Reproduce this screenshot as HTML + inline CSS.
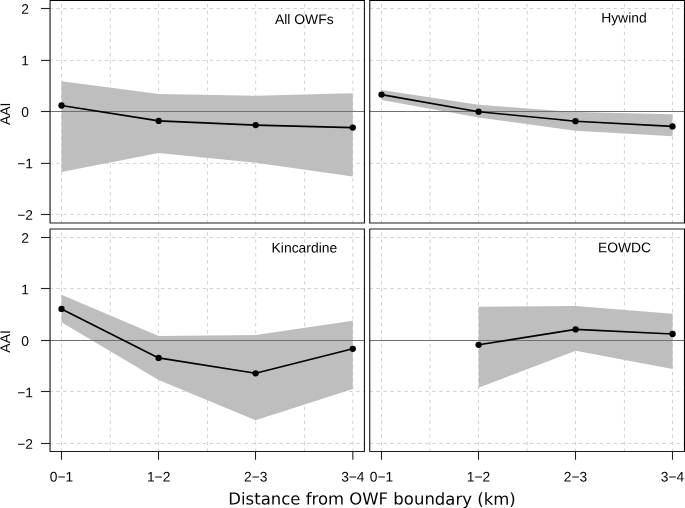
<!DOCTYPE html><html><head><meta charset="utf-8"><title>AAI vs distance from OWF boundary</title>
<style>html,body{margin:0;padding:0;background:#fff}svg{display:block}text{font-family:"Liberation Sans",Arial,sans-serif;fill:#000;text-rendering:geometricPrecision}.t{font-size:13.8px;text-anchor:middle}.p{font-size:13.9px;text-anchor:middle}.xl{font-family:"DejaVu Sans",Verdana,sans-serif;font-size:16.5px;text-anchor:middle}</style></head><body>
<svg width="685" height="508" viewBox="0 0 685 508">
<rect width="685" height="508" fill="#fff"/>
<g opacity="0.999">
<clipPath id="c0"><rect x="50.05" y="0.5" width="314.40" height="222.50"/></clipPath>
<g clip-path="url(#c0)">
<path d="M61.50 223.00V0.50M110.30 223.00V0.50M158.60 223.00V0.50M207.45 223.00V0.50M255.70 223.00V0.50M304.60 223.00V0.50M352.85 223.00V0.50" stroke="#d3d3d3" stroke-width="1" stroke-dasharray="3.5 3.475" stroke-dashoffset="0.55" fill="none"/>
<path d="M49.20 8.50H364.45M49.20 60.40H364.45M49.20 111.50H364.45M49.20 163.40H364.45M49.20 214.50H364.45" stroke="#d3d3d3" stroke-width="1" stroke-dasharray="3.5 3.475" fill="none"/>
<polygon points="61.5,81.2 158.7,93.9 255.7,95.8 352.8,93.3 352.8,176.6 255.7,162.8 158.7,153.1 61.5,172.1" fill="#bebebe"/>
<path d="M50.05 111.50H364.45" stroke="#707070" stroke-width="1" fill="none"/>
<polyline points="61.5,105.5 158.7,120.9 255.7,125.1 352.8,127.6" fill="none" stroke="#000" stroke-width="1.65" stroke-linejoin="round"/>
</g>
<circle cx="61.5" cy="105.5" r="3.15" fill="#000"/>
<circle cx="158.7" cy="120.9" r="3.15" fill="#000"/>
<circle cx="255.7" cy="125.1" r="3.15" fill="#000"/>
<circle cx="352.8" cy="127.6" r="3.15" fill="#000"/>
<rect x="50.05" y="0.5" width="314.40" height="222.50" fill="none" stroke="#1e1e1e" stroke-width="1.15" stroke-linejoin="round"/>
<text class="p" x="304.30" y="24.10" transform="rotate(0.03 304.30 24.10)">All OWFs</text>
<clipPath id="c1"><rect x="369.75" y="0.5" width="314.75" height="222.50"/></clipPath>
<g clip-path="url(#c1)">
<path d="M381.50 223.00V0.50M430.00 223.00V0.50M478.50 223.00V0.50M527.20 223.00V0.50M575.50 223.00V0.50M624.40 223.00V0.50M672.50 223.00V0.50" stroke="#d3d3d3" stroke-width="1" stroke-dasharray="3.5 3.475" stroke-dashoffset="0.55" fill="none"/>
<path d="M369.45 8.50H684.50M369.45 60.40H684.50M369.45 111.50H684.50M369.45 163.40H684.50M369.45 214.50H684.50" stroke="#d3d3d3" stroke-width="1" stroke-dasharray="3.5 3.475" fill="none"/>
<polygon points="381.5,90.0 478.6,104.8 575.5,112.0 672.5,114.2 672.5,136.3 575.5,130.7 478.6,117.5 381.5,100.0" fill="#bebebe"/>
<path d="M369.75 111.50H684.5" stroke="#707070" stroke-width="1" fill="none"/>
<polyline points="381.5,94.6 478.6,111.7 575.5,121.2 672.5,126.4" fill="none" stroke="#000" stroke-width="1.65" stroke-linejoin="round"/>
</g>
<circle cx="381.5" cy="94.6" r="3.15" fill="#000"/>
<circle cx="478.6" cy="111.7" r="3.15" fill="#000"/>
<circle cx="575.5" cy="121.2" r="3.15" fill="#000"/>
<circle cx="672.5" cy="126.4" r="3.15" fill="#000"/>
<rect x="369.75" y="0.5" width="314.75" height="222.50" fill="none" stroke="#1e1e1e" stroke-width="1.15" stroke-linejoin="round"/>
<text class="p" x="623.90" y="22.40" transform="rotate(0.03 623.90 22.40)">Hywind</text>
<clipPath id="c2"><rect x="50.05" y="229.0" width="314.40" height="222.45"/></clipPath>
<g clip-path="url(#c2)">
<path d="M61.50 451.45V229.00M110.30 451.45V229.00M158.60 451.45V229.00M207.45 451.45V229.00M255.70 451.45V229.00M304.60 451.45V229.00M352.85 451.45V229.00" stroke="#d3d3d3" stroke-width="1" stroke-dasharray="3.5 3.475" stroke-dashoffset="0.55" fill="none"/>
<path d="M49.20 237.50H364.45M49.20 288.50H364.45M49.20 340.50H364.45M49.20 391.50H364.45M49.20 443.50H364.45" stroke="#d3d3d3" stroke-width="1" stroke-dasharray="3.5 3.475" fill="none"/>
<polygon points="61.5,294.8 158.6,336.1 255.6,334.9 352.8,320.7 352.8,389.0 255.6,420.2 158.6,379.9 61.5,322.2" fill="#bebebe"/>
<path d="M50.05 340.50H364.45" stroke="#707070" stroke-width="1" fill="none"/>
<polyline points="61.5,308.9 158.6,357.9 255.6,373.3 352.8,348.8" fill="none" stroke="#000" stroke-width="1.65" stroke-linejoin="round"/>
</g>
<circle cx="61.5" cy="308.9" r="3.15" fill="#000"/>
<circle cx="158.6" cy="357.9" r="3.15" fill="#000"/>
<circle cx="255.6" cy="373.3" r="3.15" fill="#000"/>
<circle cx="352.8" cy="348.8" r="3.15" fill="#000"/>
<rect x="50.05" y="229.0" width="314.40" height="222.45" fill="none" stroke="#1e1e1e" stroke-width="1.15" stroke-linejoin="round"/>
<text class="p" x="304.40" y="252.50" transform="rotate(0.03 304.40 252.50)">Kincardine</text>
<clipPath id="c3"><rect x="369.75" y="229.0" width="314.75" height="222.45"/></clipPath>
<g clip-path="url(#c3)">
<path d="M381.50 451.45V229.00M430.00 451.45V229.00M478.50 451.45V229.00M527.20 451.45V229.00M575.50 451.45V229.00M624.40 451.45V229.00M672.50 451.45V229.00" stroke="#d3d3d3" stroke-width="1" stroke-dasharray="3.5 3.475" stroke-dashoffset="0.55" fill="none"/>
<path d="M369.45 237.50H684.50M369.45 288.50H684.50M369.45 340.50H684.50M369.45 391.50H684.50M369.45 443.50H684.50" stroke="#d3d3d3" stroke-width="1" stroke-dasharray="3.5 3.475" fill="none"/>
<polygon points="478.6,306.7 575.6,306.1 672.6,313.8 672.6,369.1 575.6,350.8 478.6,387.8" fill="#bebebe"/>
<path d="M369.75 340.50H684.5" stroke="#707070" stroke-width="1" fill="none"/>
<polyline points="478.6,344.8 575.6,329.4 672.6,334.0" fill="none" stroke="#000" stroke-width="1.65" stroke-linejoin="round"/>
</g>
<circle cx="478.6" cy="344.8" r="3.15" fill="#000"/>
<circle cx="575.6" cy="329.4" r="3.15" fill="#000"/>
<circle cx="672.6" cy="334.0" r="3.15" fill="#000"/>
<rect x="369.75" y="229.0" width="314.75" height="222.45" fill="none" stroke="#1e1e1e" stroke-width="1.15" stroke-linejoin="round"/>
<text class="p" x="624.50" y="252.20" transform="rotate(0.03 624.50 252.20)">EOWDC</text>
<path d="M50.05 0.5H364.45M369.75 0.5H684.5M684.55 0.5V223.0M684.55 229.0V451.45" stroke="#000" stroke-width="1.1" fill="none"/>
<path d="M41 8.50H50.05" stroke="#222" stroke-width="1.1"/>
<text class="t" x="25.00" y="13.80" transform="rotate(0.03 25.00 13.80)">2</text>
<path d="M41 60.40H50.05" stroke="#222" stroke-width="1.1"/>
<text class="t" x="25.00" y="65.30" transform="rotate(0.03 25.00 65.30)">1</text>
<path d="M41 111.50H50.05" stroke="#222" stroke-width="1.1"/>
<text class="t" x="25.00" y="116.80" transform="rotate(0.03 25.00 116.80)">0</text>
<path d="M41 163.40H50.05" stroke="#222" stroke-width="1.1"/>
<text class="t" x="25.00" y="168.30" transform="rotate(0.03 25.00 168.30)">−1</text>
<path d="M41 214.50H50.05" stroke="#222" stroke-width="1.1"/>
<text class="t" x="25.00" y="219.80" transform="rotate(0.03 25.00 219.80)">−2</text>
<text class="p" transform="translate(10.1 113.8) rotate(-90)">AAI</text>
<path d="M41 237.50H50.05" stroke="#222" stroke-width="1.1"/>
<text class="t" x="25.00" y="242.80" transform="rotate(0.03 25.00 242.80)">2</text>
<path d="M41 288.50H50.05" stroke="#222" stroke-width="1.1"/>
<text class="t" x="25.00" y="294.30" transform="rotate(0.03 25.00 294.30)">1</text>
<path d="M41 340.50H50.05" stroke="#222" stroke-width="1.1"/>
<text class="t" x="25.00" y="345.80" transform="rotate(0.03 25.00 345.80)">0</text>
<path d="M41 391.50H50.05" stroke="#222" stroke-width="1.1"/>
<text class="t" x="25.00" y="397.30" transform="rotate(0.03 25.00 397.30)">−1</text>
<path d="M41 443.50H50.05" stroke="#222" stroke-width="1.1"/>
<text class="t" x="25.00" y="448.80" transform="rotate(0.03 25.00 448.80)">−2</text>
<text class="p" transform="translate(10.1 341.45) rotate(-90)">AAI</text>
<path d="M61.50 451.45V459.8" stroke="#222" stroke-width="1.1"/>
<text class="t" x="61.50" y="481.50" transform="rotate(0.03 61.50 481.50)">0−1</text>
<path d="M158.50 451.45V459.8" stroke="#222" stroke-width="1.1"/>
<text class="t" x="158.62" y="481.50" transform="rotate(0.03 158.62 481.50)">1−2</text>
<path d="M255.50 451.45V459.8" stroke="#222" stroke-width="1.1"/>
<text class="t" x="255.73" y="481.50" transform="rotate(0.03 255.73 481.50)">2−3</text>
<path d="M352.85 451.45V459.8" stroke="#222" stroke-width="1.1"/>
<text class="t" x="352.85" y="481.50" transform="rotate(0.03 352.85 481.50)">3−4</text>
<path d="M381.50 451.45V459.8" stroke="#222" stroke-width="1.1"/>
<text class="t" x="381.50" y="481.50" transform="rotate(0.03 381.50 481.50)">0−1</text>
<path d="M478.50 451.45V459.8" stroke="#222" stroke-width="1.1"/>
<text class="t" x="478.50" y="481.50" transform="rotate(0.03 478.50 481.50)">1−2</text>
<path d="M575.50 451.45V459.8" stroke="#222" stroke-width="1.1"/>
<text class="t" x="575.50" y="481.50" transform="rotate(0.03 575.50 481.50)">2−3</text>
<path d="M672.50 451.45V459.8" stroke="#222" stroke-width="1.1"/>
<text class="t" x="672.50" y="481.50" transform="rotate(0.03 672.50 481.50)">3−4</text>
<text class="xl" x="372.00" y="504.60" transform="rotate(0.03 372.00 504.60)">Distance from OWF boundary (km)</text>
</g></svg></body></html>
